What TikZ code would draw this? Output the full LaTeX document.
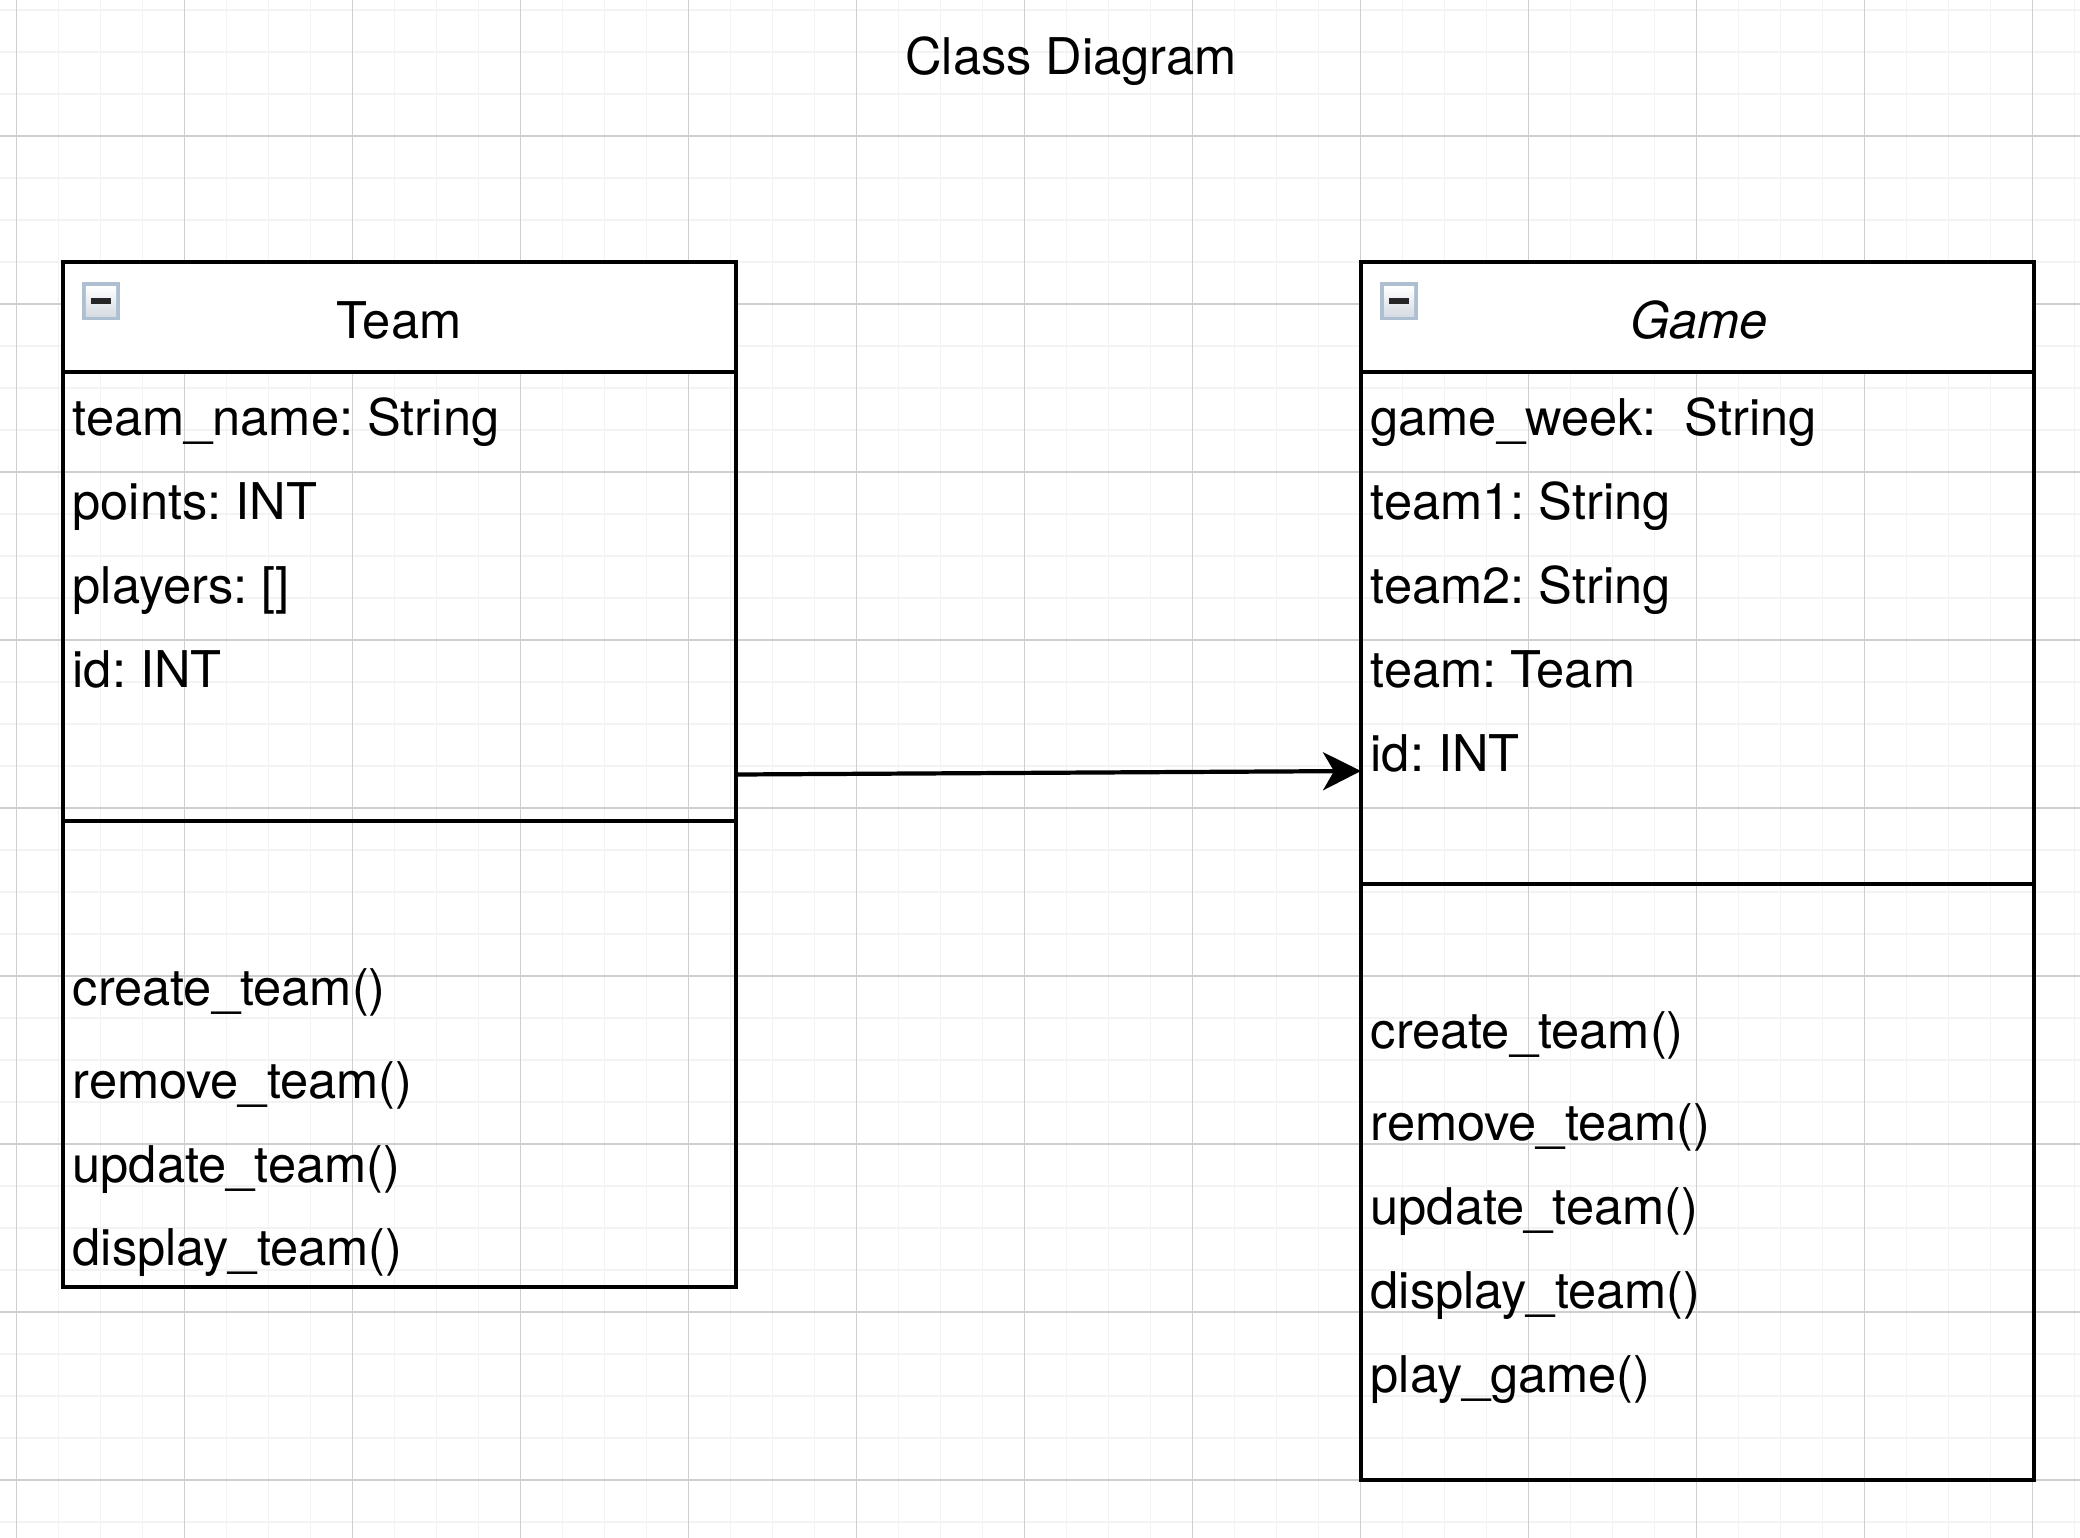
\documentclass[tikz,border=0pt]{standalone}
\usepackage{fontspec}
\setmainfont{TeX Gyre Heros}
\usetikzlibrary{arrows.meta, positioning}

\definecolor{gridminor}{HTML}{F3F3F3}
\definecolor{gridmajor}{HTML}{CFCFCF}
\definecolor{iconedge}{HTML}{AFBFD2}
\definecolor{iconlow}{HTML}{D6DCE3}

\begin{document}
\begin{tikzpicture}[
        boxline/.style={line width=1.2pt, draw=black},
        classbox/.style={boxline, anchor=north west, minimum width=6.73cm, inner sep=0pt, outer sep=0pt},
        classhead/.style={classbox, fill=white, minimum height=1.10cm},
        label/.style={anchor=base west, inner sep=0pt, font=\fontsize{14.4}{17}\selectfont\frenchspacing},
        headtext/.style={label, anchor=base},
        iconbox/.style={minimum size=0.38cm, inner sep=0pt, outer sep=0pt, fill=iconedge},
        iconface/.style={minimum size=0.30cm, inner sep=0pt, outer sep=0pt, top color=white, bottom color=iconlow},
        icondash/.style={line width=1.5pt, draw=black!85},
        link/.style={line width=1.2pt, -{Stealth[length=0.38cm, width=0.38cm, inset=0.11cm]}}
    ]

        \useasboundingbox (0, 0) rectangle (20.8, -15.38);
        \fill[white] (0, 0) rectangle (20.8, -15.38);

        % Raster
        \foreach \x in {0,...,49} {
            \draw[gridminor, line width=0.55pt] ({0.165 + 0.42*\x}, 0) -- ({0.165 + 0.42*\x}, -15.38);
        }
        \foreach \y in {0,...,36} {
            \draw[gridminor, line width=0.55pt] (0, {-0.10 - 0.42*\y}) -- (20.8, {-0.10 - 0.42*\y});
        }
        \foreach \x in {0,...,12} {
            \draw[gridmajor, line width=0.3pt] ({0.165 + 1.68*\x}, 0) -- ({0.165 + 1.68*\x}, -15.38);
        }
        \foreach \y in {0,...,8} {
            \draw[gridmajor, line width=0.3pt] (0, {-1.36 - 1.68*\y}) -- (20.8, {-1.36 - 1.68*\y});
        }

        \node[headtext] (title) at (10.71, -0.74) {Class Diagram};

        % Team
        \node[classbox, minimum height=10.25cm] (team) at (0.63, -2.62) {};
        \node[classhead] (teamhead) at (0.63, -2.62) {};
        \draw[boxline] (team.north west |- 0,-8.21) -- (team.north east |- 0,-8.21);
        \node[iconbox] (teamicon) at (1.01, -3.01) {};
        \node[iconface] (teamface) at (teamicon.center) {};
        \draw[icondash] ([xshift=-0.10cm]teamicon.center) -- ([xshift=0.10cm]teamicon.center);
        \node[headtext] (teamtitle) at (3.99, -3.38) {Team};

        \node[label] (teamname) at (0.72, -4.35) {team\_name: String};
        \node[label] (teampoints) at (0.72, -5.19) {points: INT};
        \node[label] (teamplayers) at (0.72, -6.03) {players: []};
        \node[label] (teamid) at (0.72, -6.87) {id: INT};

        \node[label] (teamcreate) at (0.72, -10.05) {create\_team()};
        \node[label] (teamremove) at (0.72, -10.98) {remove\_team()};
        \node[label] (teamupdate) at (0.72, -11.82) {update\_team()};
        \node[label] (teamdisplay) at (0.72, -12.65) {display\_team()};

        % Game
        \node[classbox, minimum height=12.18cm] (game) at (13.61, -2.62) {};
        \node[classhead] (gamehead) at (13.61, -2.62) {};
        \draw[boxline] (game.north west |- 0,-8.84) -- (game.north east |- 0,-8.84);
        \node[iconbox] (gameicon) at (13.99, -3.01) {};
        \node[iconface] (gameface) at (gameicon.center) {};
        \draw[icondash] ([xshift=-0.10cm]gameicon.center) -- ([xshift=0.10cm]gameicon.center);
        \node[headtext] (gametitle) at (16.99, -3.38) {\itshape Game};

        \node[label] (gameweek) at (13.70, -4.35) {game\_week:\ \ String};
        \node[label] (gameteama) at (13.70, -5.19) {team1: String};
        \node[label] (gameteamb) at (13.70, -6.03) {team2: String};
        \node[label] (gameteam) at (13.70, -6.87) {team: Team};
        \node[label] (gameid) at (13.70, -7.71) {id: INT};

        \node[label] (gamecreate) at (13.70, -10.48) {create\_team()};
        \node[label] (gameremove) at (13.70, -11.40) {remove\_team()};
        \node[label] (gameupdate) at (13.70, -12.24) {update\_team()};
        \node[label] (gamedisplay) at (13.70, -13.08) {display\_team()};
        \node[label] (gameplay) at (13.70, -13.92) {play\_game()};

        % Pfeil
        \draw[link] (team.east) -- (gameid.base -| game.west);

    \end{tikzpicture}
\end{document}
